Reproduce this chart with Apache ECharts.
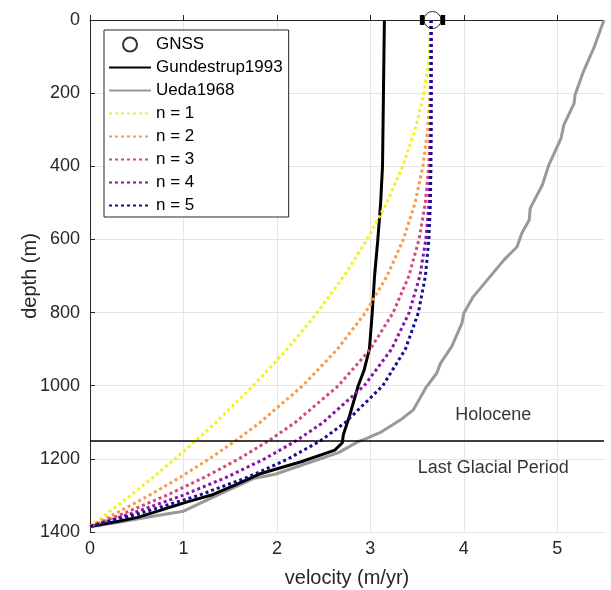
<!DOCTYPE html>
<html>
<head>
<meta charset="utf-8">
<script src="https://cdn.jsdelivr.net/npm/echarts@6/dist/echarts.min.js"></script>
<style>
html,body{margin:0;padding:0;background:#fff;}
#chart{width:611px;height:590px;}
</style>
</head>
<body>
<div id="chart"></div>
<script>
// ---- data ----
const modelDepth = [0,100,200,300,400,500,600,700,800,900,1000,1100,1150,1200,1250,1300,1350,1385];
const velN1 = [3.65,3.631,3.574,3.479,3.346,3.174,2.965,2.718,2.432,2.109,1.747,1.348,1.134,0.910,0.677,0.434,0.182,0];
const velN2 = [3.65,3.649,3.639,3.613,3.562,3.478,3.353,3.179,2.947,2.648,2.276,1.821,1.561,1.276,0.967,0.632,0.270,0];
const velN3 = [3.65,3.650,3.648,3.642,3.625,3.588,3.521,3.412,3.244,2.999,2.658,2.198,1.915,1.593,1.228,0.817,0.355,0];
const velN4 = [3.65,3.650,3.650,3.648,3.643,3.628,3.594,3.530,3.415,3.227,2.934,2.497,2.210,1.868,1.464,0.991,0.439,0];
const velN5 = [3.65,3.650,3.650,3.650,3.648,3.642,3.626,3.589,3.514,3.375,3.133,2.734,2.470,2.120,1.690,1.160,0.520,0];

const gundDepth = [0,200,400,500,600,700,800,900,960,1000,1080,1135,1156,1176,1208,1240,1272,1299,1317,1340,1360,1369,1385];
const gundVel   = [3.15,3.14,3.13,3.11,3.08,3.045,3.02,2.99,2.93,2.87,2.78,2.71,2.70,2.62,2.26,1.83,1.55,1.30,1.05,0.76,0.51,0.335,0];

const uedaDepth = [0,77,141,205,228,287,324,396,451,515,547,583,620,656,757,802,829,893,939,966,1003,1066,1094,1126,1144,1153,1183,1242,1253,1303,1343,1356,1372,1386];
const uedaVel   = [5.50,5.39,5.28,5.19,5.18,5.07,5.04,4.91,4.84,4.71,4.70,4.62,4.57,4.43,4.10,4.00,3.98,3.87,3.75,3.71,3.60,3.46,3.32,3.12,2.96,2.87,2.66,1.98,1.76,1.33,1.00,0.69,0.335,0];

const gnssVel = 3.665, gnssDepth = 0, gnssErr = 0.135;
const boundaryDepth = 1150;
const xTicks = [0,1,2,3,4,5];
const yTicks = [0,200,400,600,800,1000,1200,1400];

const pairs = (v, d) => v.map((x, i) => [x, d[i]]);
const FONT = 'Liberation Sans, Arial, Helvetica, sans-serif';
const TXT = '#262626';

const dotted = (name, vel, color) => ({
  name, type: 'line', data: pairs(vel, modelDepth), symbol: 'none',
  lineStyle: { color, width: 3, type: [3, 3], cap: 'butt' },
  itemStyle: { color }, z: 4
});
const lineItem = (name) => ({ name, itemStyle: { opacity: 0 } });

const chart = echarts.init(document.getElementById('chart'), null, { renderer: 'canvas' });
chart.setOption({
  animation: false,
  backgroundColor: '#fff',
  textStyle: { fontFamily: FONT },
  grid: { left: 90, right: 7, top: 20, bottom: 58, containLabel: false, outerBoundsMode: 'none' },
  legend: {
    left: 104, top: 30, orient: 'vertical',
    data: [
      { name: 'GNSS' },
      lineItem('Gundestrup1993'), lineItem('Ueda1968'),
      lineItem('n = 1'), lineItem('n = 2'), lineItem('n = 3'), lineItem('n = 4'), lineItem('n = 5')
    ],
    itemWidth: 42, itemHeight: 14, itemGap: 6.0,
    padding: [6, 6, 3, 4],
    borderColor: TXT, borderWidth: 1, backgroundColor: '#fff',
    textStyle: { fontSize: 17, color: '#000', fontFamily: FONT },
    selectedMode: false
  },
  xAxis: {
    type: 'value', min: 0, max: 5.5, interval: 1,
    name: 'velocity (m/yr)', nameLocation: 'middle', nameGap: 36, nameMoveOverlap: false,
    nameTextStyle: { fontSize: 20, color: TXT, fontFamily: FONT },
    axisLine: { show: true, lineStyle: { color: TXT, width: 1 } },
    axisTick: { show: true, inside: true, length: 5, lineStyle: { color: TXT } },
    axisLabel: { fontSize: 18, color: TXT, margin: 8, showMaxLabel: false, fontFamily: FONT,
                 formatter: v => String(v) },
    splitLine: { show: true, showMaxLine: false, lineStyle: { color: '#e5e5e5', width: 1 } }
  },
  yAxis: {
    type: 'value', inverse: true, min: 0, max: 1400, interval: 200,
    name: 'depth (m)', nameLocation: 'middle', nameGap: 50, nameRotate: 90, nameMoveOverlap: false,
    nameTextStyle: { fontSize: 20, color: TXT, fontFamily: FONT },
    axisLine: { show: true, lineStyle: { color: TXT, width: 1 } },
    axisTick: { show: true, inside: true, length: 5, lineStyle: { color: TXT } },
    axisLabel: { fontSize: 18, color: TXT, margin: 10, fontFamily: FONT,
                 formatter: v => String(v) },
    splitLine: { show: true, lineStyle: { color: '#e5e5e5', width: 1 } }
  },
  series: [
    {
      name: 'GNSS', type: 'scatter', data: [[gnssVel, gnssDepth]],
      symbol: 'circle', symbolSize: 17, clip: false,
      itemStyle: { color: 'rgba(255,255,255,0)', borderColor: '#000', borderWidth: 1 },
      z: 6
    },
    {
      type: 'custom', clip: false, z: 6,
      data: [[gnssVel, gnssDepth, gnssErr]],
      renderItem: (params, api) => {
        const lo = api.coord([api.value(0) - api.value(2), api.value(1)]);
        const hi = api.coord([api.value(0) + api.value(2), api.value(1)]);
        return { type: 'group', children: [
          { type: 'rect', shape: { x: lo[0], y: lo[1] - 5, width: 4.5, height: 10 }, style: { fill: '#000' } },
          { type: 'rect', shape: { x: hi[0] - 4.5, y: hi[1] - 5, width: 4.5, height: 10 }, style: { fill: '#000' } }
        ]};
      }
    },
    {
      name: 'Gundestrup1993', type: 'line', data: pairs(gundVel, gundDepth), symbol: 'none',
      lineStyle: { color: '#000', width: 3 }, itemStyle: { color: '#000' }, z: 3,
      markLine: {
        silent: true, symbol: 'none', label: { show: false },
        lineStyle: { color: '#000', width: 1.5, type: 'solid' },
        data: [{ yAxis: boundaryDepth }]
      }
    },
    {
      name: 'Ueda1968', type: 'line', data: pairs(uedaVel, uedaDepth), symbol: 'none',
      lineStyle: { color: '#999999', width: 3 }, itemStyle: { color: '#999999' }, z: 2
    },
    dotted('n = 1', velN1, '#f2f21c'),
    dotted('n = 2', velN2, '#fc9a45'),
    dotted('n = 3', velN3, '#d4487b'),
    dotted('n = 4', velN4, '#8c10ad'),
    dotted('n = 5', velN5, '#12108f'),
    {
      type: 'scatter', symbolSize: 0, z: 7,
      data: [
        { value: [4.315, 1080], label: { formatter: 'Holocene' } },
        { value: [4.315, 1225], label: { formatter: 'Last Glacial Period' } }
      ],
      label: { show: true, position: 'inside', fontSize: 18, color: '#000', fontFamily: FONT }
    }
  ]
});
</script>
</body>
</html>
